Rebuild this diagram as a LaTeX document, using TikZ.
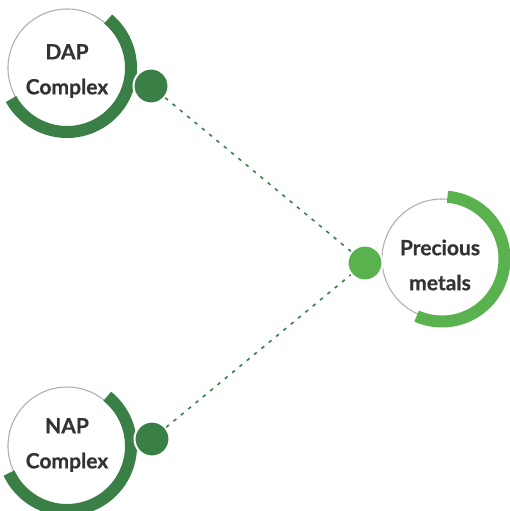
\documentclass[tikz,border=0pt]{standalone}
\usepackage{fontspec}
\setmainfont{Lato}
\newfontfamily\labelfont[BoldFeatures={FakeBold=0.6}]{Lato}
\definecolor{darkgreen}{HTML}{3A7F46}
\definecolor{lightgreen}{HTML}{5AB24F}
\definecolor{ringgray}{HTML}{B0B0B0}
\definecolor{labeltext}{HTML}{333333}
\begin{document}
\begin{tikzpicture}[x=1pt,y=-1pt,
  ring/.style={draw=ringgray,line width=1.1pt,fill=white,circle,minimum size=#1},
  label/.style={font=\labelfont\bfseries\fontsize{21}{35}\selectfont,text=labeltext,align=center},
  band/.style={line width=12pt,draw=#1},
  knob/.style={circle,fill=#1,draw=white,line width=2pt,minimum size=35pt,inner sep=0pt},
  link/.style={draw=darkgreen,line width=1.6pt,dash pattern=on 3.5pt off 6pt}]
\useasboundingbox (0,0) rectangle (510,511);

% DAP complex
\node[ring=118pt] (dapring) at (67,68) {};
\draw[band=darkgreen] (67,68) ++(50:64pt) arc[start angle=50,end angle=-151,radius=64pt];
\node[label] (dap) at (67,71) {DAP\\Complex};
\node[knob=darkgreen] (dapdot) at (151,86) {};

% NAP complex
\node[ring=118pt] (napring) at (67,446) {};
\draw[band=darkgreen] (67,446) ++(51:64pt) arc[start angle=51,end angle=-155,radius=64pt];
\node[label] (nap) at (67,445) {NAP\\Complex};
\node[knob=darkgreen] (napdot) at (152,439) {};

% Precious metals
\node[ring=120pt] (pmring) at (442,259) {};
\draw[band=lightgreen] (442,259) ++(85:62.5pt) arc[start angle=85,end angle=-114,radius=62.5pt];
\node[label] (pm) at (440,265) {Precious\\metals};
\node[knob=lightgreen] (pmdot) at (365,263) {};

% connectors
\draw[link] (dapdot) -- (pmdot);
\draw[link] (napdot) -- (pmdot);
\end{tikzpicture}
\end{document}
